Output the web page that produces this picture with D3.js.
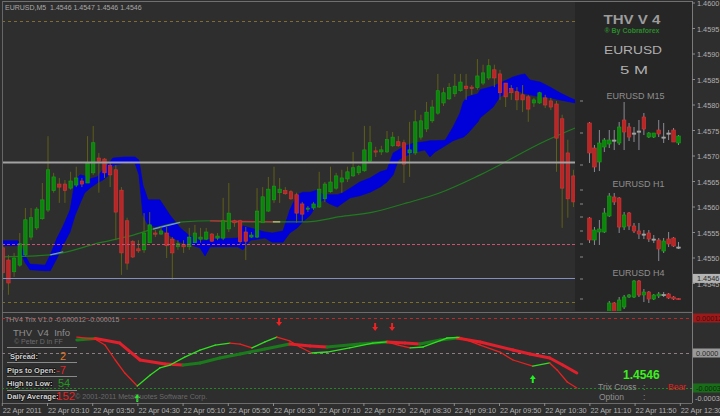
<!DOCTYPE html>
<html><head><meta charset="utf-8">
<script src="https://cdnjs.cloudflare.com/ajax/libs/d3/7.8.5/d3.min.js"></script>
<style>
html,body{margin:0;padding:0;background:#2e2e2e;}
svg{display:block;}
text{font-family:"Liberation Sans",Arial,sans-serif;}
</style></head><body>
<svg id="chart" width="720" height="416"></svg>
<script>
// ---------------- DATA ----------------
const chartTitle = "EURUSD,M5  1.4546 1.4547 1.4546 1.4546";
const indicatorTitle = "THV4 Trix V1.0 -0.000012 -0.000015";
const priceTicks = [1.4545,1.4550,1.4555,1.4560,1.4565,1.4570,1.4575,1.4580,1.4585,1.4590,1.4595,1.4600];
const timeTickBars = [0,8,16,24,32,40,48,56,64,72,80,88,96,104,112,120];
const timeTickLabels = ["22 Apr 2011","22 Apr 03:10","22 Apr 03:50","22 Apr 04:30","22 Apr 05:10","22 Apr 05:50","22 Apr 06:30","22 Apr 07:10","22 Apr 07:50","22 Apr 08:30","22 Apr 09:10","22 Apr 09:50","22 Apr 10:30","22 Apr 11:10","22 Apr 11:50","22 Apr 12:30"];

// M5 candles (bar 0 = 02:30)
const candleOpen = [1.45520,1.45496,1.45473,1.45486,1.45506,1.45541,1.45559,1.45577,1.45594,1.45632,1.45645,1.45645,1.45637,1.45643,1.45651,1.45647,1.45667,1.45696,1.45694,1.45681,1.45673,1.45633,1.45573,1.45532,1.45518,1.45516,1.45530,1.45549,1.45547,1.45549,1.45537,1.45522,1.45526,1.45522,1.45530,1.45537,1.45537,1.45547,1.45539,1.45539,1.45557,1.45573,1.45573,1.45551,1.45541,1.45541,1.45569,1.45592,1.45614,1.45628,1.45632,1.45630,1.45624,1.45606,1.45596,1.45598,1.45600,1.45616,1.45630,1.45637,1.45649,1.45655,1.45661,1.45667,1.45671,1.45690,1.45710,1.45708,1.45708,1.45720,1.45728,1.45726,1.45706,1.45706,1.45737,1.45753,1.45769,1.45784,1.45804,1.45812,1.45822,1.45828,1.45837,1.45835,1.45834,1.45843,1.45853,1.45869,1.45861,1.45843,1.45832,1.45826,1.45820,1.45816,1.45804,1.45804,1.45814,1.45808,1.45802,1.45773,1.45706,1.45661];
const candleHigh = [1.45528,1.45506,1.45510,1.45549,1.45598,1.45598,1.45600,1.45647,1.45739,1.45667,1.45657,1.45653,1.45669,1.45679,1.45657,1.45739,1.45759,1.45706,1.45696,1.45686,1.45682,1.45639,1.45579,1.45535,1.45535,1.45588,1.45590,1.45555,1.45561,1.45561,1.45541,1.45535,1.45535,1.45559,1.45565,1.45559,1.45559,1.45549,1.45549,1.45618,1.45647,1.45575,1.45575,1.45561,1.45551,1.45637,1.45639,1.45659,1.45679,1.45657,1.45639,1.45633,1.45628,1.45610,1.45602,1.45610,1.45669,1.45649,1.45679,1.45667,1.45673,1.45679,1.45708,1.45682,1.45759,1.45759,1.45718,1.45720,1.45749,1.45747,1.45739,1.45732,1.45767,1.45790,1.45781,1.45806,1.45810,1.45861,1.45834,1.45843,1.45861,1.45861,1.45861,1.45839,1.45890,1.45879,1.45890,1.45879,1.45869,1.45843,1.45839,1.45835,1.45839,1.45820,1.45814,1.45826,1.45820,1.45814,1.45808,1.45781,1.45732,1.45673];
const candleLow = [1.45437,1.45428,1.45463,1.45483,1.45502,1.45535,1.45555,1.45575,1.45590,1.45628,1.45608,1.45608,1.45634,1.45639,1.45639,1.45647,1.45663,1.45628,1.45657,1.45639,1.45535,1.45467,1.45477,1.45500,1.45510,1.45510,1.45530,1.45541,1.45545,1.45500,1.45457,1.45516,1.45510,1.45516,1.45530,1.45530,1.45535,1.45532,1.45535,1.45535,1.45551,1.45561,1.45528,1.45496,1.45539,1.45539,1.45569,1.45590,1.45608,1.45608,1.45624,1.45614,1.45569,1.45571,1.45590,1.45594,1.45598,1.45610,1.45628,1.45634,1.45628,1.45649,1.45659,1.45663,1.45669,1.45688,1.45698,1.45702,1.45706,1.45718,1.45718,1.45647,1.45659,1.45702,1.45732,1.45747,1.45765,1.45781,1.45798,1.45810,1.45816,1.45826,1.45810,1.45820,1.45830,1.45839,1.45849,1.45835,1.45810,1.45796,1.45810,1.45790,1.45786,1.45767,1.45796,1.45802,1.45794,1.45790,1.45669,1.45559,1.45579,1.45600];
const candleClose = [1.45471,1.45451,1.45500,1.45528,1.45575,1.45579,1.45596,1.45614,1.45673,1.45659,1.45639,1.45632,1.45651,1.45657,1.45645,1.45686,1.45726,1.45690,1.45667,1.45663,1.45590,1.45510,1.45490,1.45502,1.45514,1.45549,1.45565,1.45547,1.45553,1.45524,1.45510,1.45528,1.45522,1.45541,1.45549,1.45541,1.45551,1.45533,1.45543,1.45573,1.45588,1.45569,1.45532,1.45533,1.45545,1.45592,1.45620,1.45635,1.45641,1.45635,1.45626,1.45616,1.45588,1.45586,1.45598,1.45606,1.45635,1.45645,1.45649,1.45661,1.45657,1.45669,1.45677,1.45679,1.45712,1.45726,1.45708,1.45712,1.45732,1.45737,1.45720,1.45684,1.45712,1.45767,1.45769,1.45786,1.45796,1.45828,1.45824,1.45834,1.45837,1.45845,1.45832,1.45832,1.45857,1.45863,1.45877,1.45853,1.45824,1.45816,1.45824,1.45810,1.45810,1.45792,1.45810,1.45824,1.45800,1.45796,1.45735,1.45637,1.45616,1.45610];

// blue band (bar index, upper, lower)
const cloudBar = [-0.1,2.7,3.9,4.8,7.5,8.4,9.6,10.7,11.9,12.8,13.7,14.5,15.4,16.7,17.7,18.6,19.5,21.6,23.4,24.1,24.8,25.7,27.8,29.6,31.4,33.1,34.9,35.8,36.7,41.6,42.5,43.8,46.4,47.7,49.6,50.8,52.1,53.1,54.4,55.6,56.7,57.9,59.2,60.2,61.5,63.2,65.0,66.8,68.0,69.1,70.0,71.2,73.0,74.7,75.6,76.5,78.3,79.7,80.9,81.5,82.2,84.1,84.5,86.8,88.0,89.2,90.3,91.5,92.4,93.3,95.1,96.9,98.6,100.4,101.3];
const cloudUpper = [1.45534,1.45534,1.45506,1.45488,1.45486,1.45506,1.45539,1.45563,1.45594,1.45653,1.45663,1.45661,1.45655,1.45659,1.45673,1.45684,1.45696,1.45698,1.45698,1.45692,1.45643,1.45614,1.45614,1.45584,1.45559,1.45543,1.45535,1.45535,1.45537,1.45539,1.45563,1.45559,1.45551,1.45549,1.45553,1.45594,1.45624,1.45629,1.45629,1.45633,1.45624,1.45624,1.45624,1.45628,1.45637,1.45649,1.45657,1.45669,1.45673,1.45706,1.45712,1.45720,1.45726,1.45728,1.45730,1.45730,1.45731,1.45757,1.45784,1.45806,1.45816,1.45822,1.45830,1.45837,1.45843,1.45849,1.45855,1.45859,1.45861,1.45849,1.45845,1.45835,1.45824,1.45814,1.45810];
const cloudLower = [1.45524,1.45524,1.45492,1.45477,1.45475,1.45475,1.45500,1.45526,1.45551,1.45584,1.45608,1.45628,1.45637,1.45647,1.45653,1.45661,1.45682,1.45686,1.45686,1.45663,1.45584,1.45565,1.45559,1.45543,1.45531,1.45526,1.45520,1.45504,1.45522,1.45522,1.45516,1.45535,1.45539,1.45531,1.45531,1.45549,1.45559,1.45571,1.45584,1.45604,1.45614,1.45606,1.45600,1.45608,1.45618,1.45622,1.45629,1.45639,1.45649,1.45663,1.45692,1.45700,1.45708,1.45712,1.45698,1.45708,1.45720,1.45730,1.45735,1.45737,1.45743,1.45767,1.45775,1.45796,1.45816,1.45824,1.45830,1.45826,1.45822,1.45820,1.45816,1.45814,1.45810,1.45806,1.45804];

// slow moving average
const maBar = [-0.5,8.4,17.2,23.1,29.1,31.9,37.2,42.0,53.8,59.7,65.5,71.5,77.4,84.5,96.3,101.3];
const maValue = [1.45502,1.45506,1.45530,1.45545,1.45565,1.45571,1.45573,1.45571,1.45571,1.45581,1.45590,1.45608,1.45628,1.45663,1.45731,1.45755];
const maStateFrom = [8.4,26.6,36.7,47.8];
const maStateTo = [10.7,31.4,47.8,49.1];
const maState = ["flat","flat","down","neutral"];

// horizontal levels
const levelTopDash = 1.45965;
const levelGrey = 1.45688;
const levelPink = 1.45528;
const levelBottomDash = 1.45414;
const bidPrice = 1.4546;

// mini charts (pips relative to the current price)
const m15Open  = [6.5,-6,-13,-5.5,-4,-2,-3.5,8,4.5,1.5,2.5,9.5,-0.5,-0.5,3,-0.5,1.5,3,-3.5];
const m15High  = [7,-4.5,3,-1,3,3,7,17,6.5,4.5,8,11.5,2,1.5,8,6.5,3,4,0.5];
const m15Low   = [-13.5,-18,-17.5,-8,-6,-7,-4.5,-7,-2.5,-3,-7,0.5,-1,-1,-0.5,-3.5,-2,-3,-4.5];
const m15Close = [-8.5,-15.5,-3.5,-2,-2,-2,4.5,2,-0.5,1.5,2.5,3.5,1.5,1.5,1,-0.5,1.5,-3,0];
const h1Open  = [29,7,15,15,31,50,49,20,34,21,16,13,14,8,7,-4,8,9,0];
const h1High  = [30,20,27,39,54,54,50,35,35,24,24,17,17,12,9,9,15,10,5];
const h1Low   = [4,2,2,14,30,42,14,17,17,14,8,8,5,4,-14,-6,0,0,-2];
const h1Close = [7,17,18,34,51,45,20,32,21,16,13,13,8,8,-2,6,3,1,0];
const h4Open  = [-31,-7,-25,-15,5,5,37,9,15,1,7,10,11,5,2];
const h4High  = [-3,-5,5,9,11,39,39,21,17,11,15,15,13,7,3];
const h4Low   = [-40,-37,-30,-19,3,3,5,-5,-7,-1,3,5,1,-1,-1];
const h4Close = [-7,-31,-1,5,9,37,9,15,1,9,11,10,3,1,0];
const m15Marks = [17.5,1.5,-14.5];
const h1Marks = [57,43,30,16,3,-10];
const h4Marks = [41,1];

// Trix indicator
const trixFastBar = [13.1,16.3,18.1,19.9,21.6,23.8,26.1,27.8,29.6,32.2,34.9,37.6,40.2,42.0,44.1,46.4,48.5,50.8,52.6,54.7,57.4,61.4,65.5,68.0,70.0,72.1,74.4,78.6,80.9,84.5,88.0,90.3,93.8,96.8,98.1,99.9,101.6];
const trixFast = [0.000114,0.000100,0.000057,-0.000050,-0.000143,-0.000236,-0.000157,-0.000107,-0.000086,-0.000029,0.000021,0.000057,0.000071,0.000064,0.000036,0.000079,0.000114,0.000086,0.000043,0.000000,0.000007,0.000036,0.000071,0.000079,0.000057,0.000036,0.000043,0.000107,0.000111,0.000057,0.000007,-0.000050,-0.000093,-0.000071,-0.000121,-0.000207,-0.000250];
const trixSlowBar = [13.1,16.4,20.7,24.3,28.7,31.9,34.9,38.4,42.0,46.4,50.8,54.4,57.4,63.2,68.0,71.2,73.8,77.4,80.4,84.5,90.3,93.3,96.8,99.1,101.6];
const trixSlow = [0.000093,0.000104,0.000071,-0.000050,-0.000079,-0.000086,-0.000071,-0.000036,-0.000007,0.000029,0.000064,0.000050,0.000043,0.000064,0.000079,0.000071,0.000064,0.000093,0.000107,0.000079,0.000021,-0.000007,-0.000036,-0.000086,-0.000143];
const sellArrowBar = [48.9,65.9,68.9];
const sellArrowVal = [0.000221,0.000186,0.000186];
const buyArrowBar = [23.8,93.8];
const buyArrowVal = [-0.000321,-0.000186];
const trixLevels = [0.00025,0,-0.00025];
const trixAxisLabels = ["0.000128","0.0000","-0.00030"];
const trixAxisMin = "-0.00036";

// info panel
const infoLabels = ["Spread:","Pips to Open:","High to Low:","Daily Average:"];
const infoValues = ["2","-7","54","152"];
const currentPrice = "1.4546";
const trixCross = "Bear";

// ---------------- DRAWING ----------------
const W=720,H=416, BG="#2e2e2e";
const svg=d3.select("#chart");
svg.append("rect").attr("width",W).attr("height",H).attr("fill",BG);
const defs=svg.append("defs");
defs.append("clipPath").attr("id","clipMain").append("rect").attr("x",2.5).attr("y",2).attr("width",689.5).attr("height",309);
defs.append("clipPath").attr("id","clipInd").append("rect").attr("x",2.5).attr("y",313).attr("width",689.5).attr("height",90);

const x = d3.scaleLinear().domain([0,120]).range([2.8, 2.8+5.65*120]);
const y = d3.scaleLinear().domain([1.4550,1.4600]).range([258,3]);
const yi = d3.scaleLinear().domain([0,0.00025]).range([353,318]);

const main = svg.append("g").attr("clip-path","url(#clipMain)");

// cloud
const cloud = cloudBar.map((b,i)=>({b,u:cloudUpper[i],l:cloudLower[i]}));
main.append("path").datum(cloud)
  .attr("d", d3.area().x(d=>x(d.b)).y0(d=>y(d.l)).y1(d=>y(d.u)).curve(d3.curveLinear))
  .attr("fill","#0000d8").attr("stroke","#0000d8").attr("stroke-width",0.6);

// moving average
const ma = maBar.map((b,i)=>({b,v:maValue[i]}));
const maLine = d3.line().x(d=>x(d.b)).y(d=>y(d.v)).curve(d3.curveMonotoneX);
main.append("path").datum(ma).attr("d",maLine).attr("fill","none").attr("stroke","#1f7a1f").attr("stroke-width",1.2);
const maColors = {flat:"#7a9ac0",down:"#c0303a",neutral:"#d8c080"};
const maAt = b => {
  let k=0; while(k<maBar.length-2 && maBar[k+1]<b) k++;
  const t=(b-maBar[k])/(maBar[k+1]-maBar[k]); return maValue[k]+t*(maValue[k+1]-maValue[k]);
};
maState.forEach((s,i)=>{
  main.append("line").attr("x1",x(maStateFrom[i])).attr("x2",x(maStateTo[i]))
    .attr("y1",y(maAt(maStateFrom[i]))).attr("y2",y(maAt(maStateTo[i])))
    .attr("stroke",maColors[s]).attr("stroke-width",1.2);
});

// candles
const candles = candleOpen.map((o,i)=>({i,o,h:candleHigh[i],l:candleLow[i],c:candleClose[i]}));
const cg = main.append("g");
cg.selectAll("line.w").data(candles).join("line").attr("class","w")
  .attr("x1",d=>x(d.i)).attr("x2",d=>x(d.i)).attr("y1",d=>y(d.h)).attr("y2",d=>y(d.l))
  .attr("stroke","#5f5f18").attr("stroke-width",1);
cg.selectAll("rect.b").data(candles).join("rect").attr("class","b")
  .attr("x",d=>x(d.i)-1.7).attr("width",3.4)
  .attr("y",d=>y(Math.max(d.o,d.c)))
  .attr("height",d=>Math.max(1.2,Math.abs(y(d.o)-y(d.c))))
  .attr("fill",d=>d.c>=d.o?"#0b860b":"#b82626")
  .attr("stroke",d=>d.c>=d.o?"#14a014":"#d83636").attr("stroke-width",0.6);

// horizontal levels
function hline(p,color,dash,w){
  main.append("line").attr("x1",2).attr("x2",692).attr("y1",Math.round(y(p))+0.5).attr("y2",Math.round(y(p))+0.5)
   .attr("stroke",color).attr("stroke-width",w).attr("stroke-dasharray",dash);
}
hline(levelTopDash,"#806c30","3,3",1);
hline(levelGrey,"#a2a2a2",null,2);
hline(levelPink,"#cc5070","3,2",1);
hline(bidPrice,"#8090c4",null,1);
hline(levelBottomDash,"#7a7028","3,3",1);

// info panel overlay
main.append("rect").attr("x",575).attr("y",2).attr("width",117).attr("height",309).attr("fill","#262626");
const pt = main.append("g");
pt.append("text").attr("x",632).attr("y",24).attr("text-anchor","middle").attr("font-size",13).attr("font-weight","bold")
  .attr("fill","#9c9c9c").attr("textLength",57).attr("lengthAdjust","spacingAndGlyphs").text("THV V 4");
pt.append("text").attr("x",632).attr("y",33).attr("text-anchor","middle").attr("font-size",6.5).attr("font-weight","bold")
  .attr("fill","#2a8a2a").attr("textLength",55).attr("lengthAdjust","spacingAndGlyphs").text("\u00AE By Cobraforex");
pt.append("text").attr("x",633).attr("y",54).attr("text-anchor","middle").attr("font-size",10).attr("font-family","DejaVu Sans")
  .attr("fill","#b0b0b0").attr("textLength",58).attr("lengthAdjust","spacingAndGlyphs").text("EURUSD");
pt.append("text").attr("x",634).attr("y",74).attr("text-anchor","middle").attr("font-size",11).attr("font-family","DejaVu Sans")
  .attr("fill","#b0b0b0").attr("textLength",28).attr("lengthAdjust","spacingAndGlyphs").text("5 M");
[["EURUSD M15",635.5,99],["EURUSD H1",638.5,187],["EURUSD H4",638.5,276]].forEach(t=>{
  pt.append("text").attr("x",t[1]).attr("y",t[2]).attr("text-anchor","middle").attr("font-size",9)
    .attr("fill","#8e8e8e").text(t[0]);
});

// mini charts
const miniX = d3.scaleLinear().domain([0,18]).range([589.5,678.5]);
function mini(o,h,l,c,startK,ys,marks){
  const data=o.map((v,i)=>({k:startK+i,o:v,h:h[i],l:l[i],c:c[i]}));
  const g=main.append("g");
  g.selectAll("line.wk").data(data).join("line").attr("class","wk")
   .attr("x1",d=>miniX(d.k)).attr("x2",d=>miniX(d.k)).attr("y1",d=>ys(d.h)).attr("y2",d=>ys(d.l))
   .attr("stroke","#8a8a94").attr("stroke-width",1);
  g.selectAll("rect").data(data).join("rect")
   .attr("x",d=>miniX(d.k)-1.8).attr("width",3.6)
   .attr("y",d=>ys(Math.max(d.o,d.c))).attr("height",d=>Math.max(1.2,Math.abs(ys(d.o)-ys(d.c))))
   .attr("fill",d=>d.c>d.o?"#0b860b":(d.c<d.o?"#b82626":"#a0a0a0"))
   .attr("stroke",d=>d.c>d.o?"#16a016":(d.c<d.o?"#d83636":"#a8a8a8")).attr("stroke-width",0.6);
  g.selectAll("line.mk").data(marks).join("line").attr("class","mk")
   .attr("x1",580).attr("x2",583).attr("y1",d=>ys(d)).attr("y2",d=>ys(d))
   .attr("stroke","#8a8a8a").attr("stroke-width",1);
}
mini(m15Open,m15High,m15Low,m15Close,0,d3.scaleLinear().domain([0,10]).range([136,116]),m15Marks);
mini(h1Open,h1High,h1Low,h1Close,0,d3.scaleLinear().domain([0,10]).range([247,237]),h1Marks);
mini(h4Open,h4High,h4Low,h4Close,4,d3.scaleLinear().domain([0,10]).range([299.5,294.5]),h4Marks);

// chart title
svg.append("text").attr("x",5).attr("y",10).attr("font-size",7).attr("fill","#a8a8a8")
  .style("white-space","pre").text(chartTitle);

// frame lines
svg.append("line").attr("x1",2).attr("x2",692).attr("y1",1.5).attr("y2",1.5).attr("stroke","#707070");
svg.append("line").attr("x1",2.5).attr("x2",2.5).attr("y1",1).attr("y2",403).attr("stroke","#666");
svg.append("line").attr("x1",692.5).attr("x2",692.5).attr("y1",1).attr("y2",403).attr("stroke","#7a7a7a");
svg.append("line").attr("x1",2).attr("x2",692).attr("y1",312.5).attr("y2",312.5).attr("stroke","#6c6c6c");
svg.append("line").attr("x1",2).attr("x2",692).attr("y1",403.5).attr("y2",403.5).attr("stroke","#6c6c6c");

// price axis
const ax = svg.append("g");
priceTicks.forEach(p=>{
  ax.append("line").attr("x1",692).attr("x2",695).attr("y1",y(p)).attr("y2",y(p)).attr("stroke","#8a8a8a");
  ax.append("text").attr("x",697).attr("y",y(p)+3).attr("font-size",7.3).attr("fill","#b0b0b0").text(d3.format(".4f")(p));
});
ax.append("rect").attr("x",693).attr("y",y(bidPrice)-4.5).attr("width",27).attr("height",9).attr("fill","#b4b4b4");
ax.append("text").attr("x",697).attr("y",y(bidPrice)+2.8).attr("font-size",7.3).attr("fill","#2a2a2a").text(d3.format(".4f")(bidPrice));

// ---------------- indicator window ----------------
const ind = svg.append("g").attr("clip-path","url(#clipInd)");
const lvlStyle=[["#c02828","3,3"],["#8c7c84","3,3"],["#1e8a1e","2,2"]];
trixLevels.forEach((v,i)=>{
  ind.append("line").attr("x1",2).attr("x2",692).attr("y1",Math.round(yi(v))+0.5).attr("y2",Math.round(yi(v))+0.5)
    .attr("stroke",lvlStyle[i][0]).attr("stroke-dasharray",lvlStyle[i][1]);
});
function colored(bars,vals,w,up,down){
  for(let k=0;k<bars.length-1;k++){
    ind.append("line").attr("x1",x(bars[k])).attr("y1",yi(vals[k])).attr("x2",x(bars[k+1])).attr("y2",yi(vals[k+1]))
      .attr("stroke",vals[k+1]>=vals[k]?up:down).attr("stroke-width",w).attr("stroke-linecap","round");
  }
}
colored(trixSlowBar,trixSlow,3,"#1b7a1b","#e0202c");
colored(trixFastBar,trixFast,1.3,"#30e020","#e82020");
sellArrowBar.forEach((b,i)=>{
  const cx=x(b), cy=yi(sellArrowVal[i]);
  ind.append("path").attr("d",`M${cx},${cy+4}L${cx-3},${cy}L${cx-1},${cy}L${cx-1},${cy-4}L${cx+1},${cy-4}L${cx+1},${cy}L${cx+3},${cy}Z`).attr("fill","#ee2222");
});
buyArrowBar.forEach((b,i)=>{
  const cx=x(b), cy=yi(buyArrowVal[i]);
  ind.append("path").attr("d",`M${cx},${cy-4}L${cx-3},${cy}L${cx-1},${cy}L${cx-1},${cy+4}L${cx+1},${cy+4}L${cx+1},${cy}L${cx+3},${cy}Z`).attr("fill","#22ee22");
});
ind.append("text").attr("x",5).attr("y",322).attr("font-size",7).attr("fill","#8e8e8e").text(indicatorTitle);

// left info block
const ib = svg.append("g");
ib.append("text").attr("x",13).attr("y",336).attr("font-size",9.5).attr("fill","#8e8e8e").text("THV\u00a0\u00a0V4\u00a0\u00a0Info");
ib.append("text").attr("x",14).attr("y",344).attr("font-size",7).attr("fill","#6c6c6c").text("\u00A9 Peter D in FF");
[347,362,376,390].forEach(yy=>ib.append("line").attr("x1",7).attr("x2",77).attr("y1",yy+0.5).attr("y2",yy+0.5).attr("stroke","#8a8a8a"));
ib.append("text").attr("x",75).attr("y",399).attr("font-size",7.2).attr("fill","#6a6a6a").text("\u00A9 2001-2011 MetaQuotes Software Corp.");
const infoY=[359,373,386,399], infoX=[10,7,7,7];
const valColor=["#e07a28","#e22424","#1f9a1f","#e22424"], valX=[60,56,58,56], valSize=[11,11,11,11.5];
infoLabels.forEach((t,i)=>{
  ib.append("text").attr("x",infoX[i]).attr("y",infoY[i]).attr("font-size",7.5).attr("font-weight","bold")
    .attr("fill","#d0d0d0").attr("stroke","#111").attr("stroke-width",1.4).attr("paint-order","stroke").text(t);
  ib.append("text").attr("x",valX[i]).attr("y",infoY[i]+1).attr("font-size",valSize[i]).attr("fill",valColor[i]).text(infoValues[i]);
});

// right info block
ib.append("text").attr("x",623).attr("y",379).attr("font-size",12).attr("font-weight","bold").attr("fill","#3cf01c").text(currentPrice);
ib.append("text").attr("x",598).attr("y",389.5).attr("font-size",8.5).attr("fill","#909090").text("Trix Cross");
ib.append("text").attr("x",643).attr("y",389.5).attr("font-size",8.5).attr("fill","#909090").text(":");
ib.append("text").attr("x",668).attr("y",389.5).attr("font-size",8.5).attr("fill","#e02020").text(trixCross);
ib.append("text").attr("x",599).attr("y",400).attr("font-size",8.5).attr("fill","#909090").text("Option");
ib.append("text").attr("x",643).attr("y",400).attr("font-size",8.5).attr("fill","#909090").text(":");

// indicator axis labels
const boxFill=["#9c1a1a","#9a9a9a","#1a6e1a"], boxText=["#4a0a0a","#2a2a2a","#0a2a0a"];
trixLevels.forEach((v,i)=>{
  ax.append("rect").attr("x",693).attr("y",yi(v)-4.5).attr("width",27).attr("height",9).attr("fill",boxFill[i]);
  ax.append("text").attr("x",696).attr("y",yi(v)+2.8).attr("font-size",7.3).attr("fill",boxText[i]).text(trixAxisLabels[i]);
});
ax.append("text").attr("x",695).attr("y",401).attr("font-size",7.3).attr("fill","#b0b0b0").text(trixAxisMin);

// time axis
timeTickBars.forEach((b,i)=>{
  ax.append("line").attr("x1",x(b)-0.5).attr("x2",x(b)-0.5).attr("y1",403).attr("y2",406).attr("stroke","#8a8a8a");
  ax.append("text").attr("x",x(b)).attr("y",413).attr("font-size",7.3).attr("fill","#b0b0b0").text(timeTickLabels[i]);
});
</script>
</body></html>
